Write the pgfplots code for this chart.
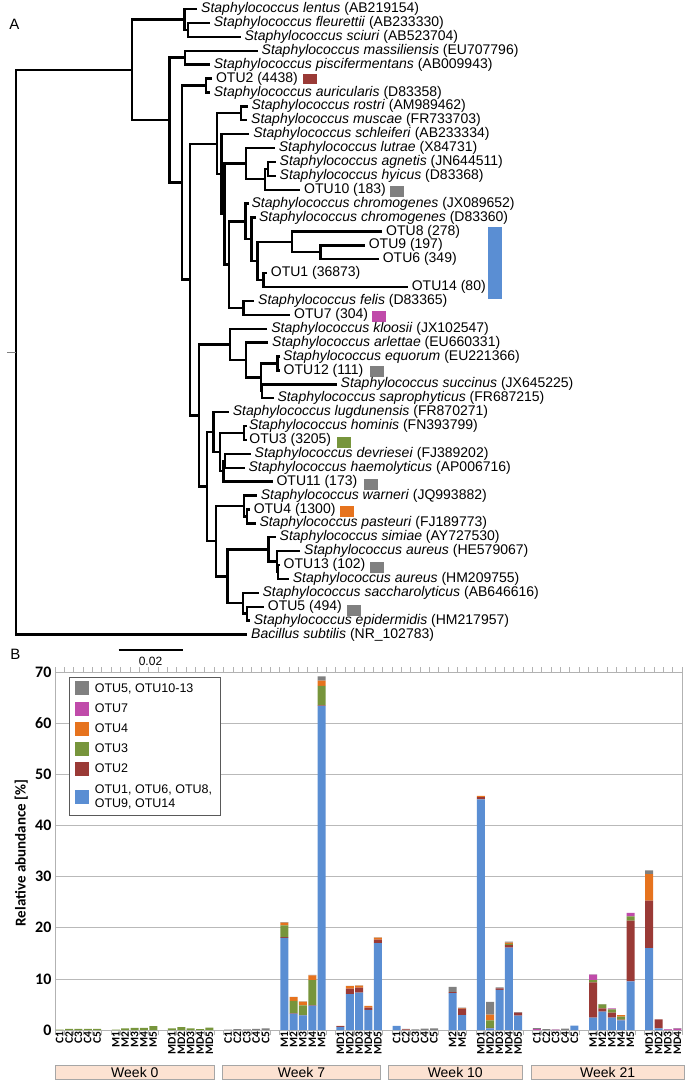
\documentclass[border=0pt]{standalone}
\usepackage{pgfplots}
\pgfplotsset{compat=1.18}
\usepackage{pgfplotstable}
\usepackage{fontspec}
\setmainfont{Liberation Sans}
\newfontfamily\carlito{Carlito}

\definecolor{cBlue}{HTML}{5A8ED3}
\definecolor{cRed}{HTML}{9A3A36}
\definecolor{cGreen}{HTML}{77953C}
\definecolor{cOrange}{HTML}{E6731E}
\definecolor{cMag}{HTML}{C04BAA}
\definecolor{cGrey}{HTML}{808080}
\definecolor{cPeach}{HTML}{FCE2D2}

\pgfplotsset{sqleg/.style={legend image code/.code={\fill[##1] (0pt,-7pt) rectangle (13.5pt,7pt);}}}
\tikzset{br/.style={black, line width=2.4pt, line join=miter},
  tl/.style={anchor=west, inner sep=0pt, font=\fontsize{14}{14}\selectfont},
  wk/.style={font=\fontsize{14}{14}\selectfont, text=black}}

% x = column index; gaps carry no bar
\pgfplotstableread{
x  blue  o2   o3   o4   o7   gr
0  0     0    0.05 0    0    0
1  0     0    0.2  0    0    0
2  0     0    0.2  0    0    0
3  0     0    0.2  0    0    0
4  0     0    0.2  0    0    0
6  0     0    0.05 0    0    0
7  0     0    0.3  0    0    0
8  0     0    0.4  0    0    0
9  0     0    0.4  0    0    0
10 0     0    0.75 0    0    0
12 0     0    0.3  0    0    0
13 0     0    0.55 0    0    0
14 0     0    0.3  0    0    0
15 0     0    0.15 0    0    0
16 0     0    0.45 0    0    0
18 0     0    0    0    0    0.05
19 0     0    0    0    0    0.15
20 0     0    0    0    0    0.1
21 0     0    0    0    0    0.2
22 0     0    0    0    0    0.3
24 18.0  0.15 2.3  0.55 0    0.1
25 3.2   0.1  2.4  0.75 0    0.05
26 2.85  0.05 1.9  0.75 0    0.05
27 4.75  0.1  4.9  0.95 0    0.1
28 63.4  0.1  3.8  1.0  0    0.85
30 0.6   0.15 0    0.05 0    0
31 7.0   1.1  0    0.5  0    0.05
32 7.3   1.0  0    0.4  0    0.05
33 3.95  0.45 0    0.3  0    0
34 17.0  0.65 0    0.4  0    0.05
36 0.8   0    0    0    0    0
37 0     0.1  0    0    0    0.1
38 0     0    0    0    0    0.1
39 0     0    0    0    0    0.25
40 0     0    0    0    0    0.3
42 7.2   0.2  0    0    0    1.05
43 2.9   1.3  0    0.1  0    0.1
45 45.1  0.45 0    0.25 0    0
46 0.3   0.1  1.5  1.1  0    2.5
47 7.85  0.3  0    0    0    0.2
48 16.1  0.5  0.25 0.25 0    0.2
49 2.8   0.6  0    0    0    0.1
51 0     0    0    0    0.15 0.2
52 0     0    0    0    0    0.15
53 0     0    0    0    0.05 0.05
54 0     0    0    0    0    0.25
55 0.85  0    0    0    0    0
57 2.4   6.9  0.45 0    1.1  0.05
58 3.6   0.65 0.75 0    0    0.05
59 2.4   1.0  0.65 0    0.2  0
60 1.9   0.15 0.55 0.3  0    0
61 9.5   11.9 0.8  0    0.7  0
63 16.0  9.3  0    5.2  0    0.7
64 0.3   1.8  0    0    0    0
65 0     0    0    0    0.1  0.05
66 0     0    0    0    0.25 0.1
}\abund

\newcommand{\st}[2]{\textit{Staphylococcus #1} (#2)}

\begin{document}
\begin{tikzpicture}
\path[use as bounding box] (0pt,0pt) rectangle (688pt,-1082pt);

% ---------------- tree ----------------
\begin{axis}[at={(0pt,0pt)}, anchor=north west, scale only axis,
  width=688pt, height=660pt, xmin=0, xmax=688, ymin=0, ymax=660,
  y dir=reverse, axis lines=none, clip=false]
% branches
\addplot[br] coordinates {(209.5,22.9) (187.8,22.9) (187.8,36.8) (240.5,36.8)};
\addplot[br] coordinates {(197,9) (184.3,9) (184.3,29.85) (187.8,29.85)};
\addplot[br] coordinates {(257.5,50.7) (185,50.7) (185,64.6) (209.5,64.6)};
\addplot[br] coordinates {(212,78.5) (206.2,78.5) (206.2,92.4) (209.5,92.4)};
\addplot[br] coordinates {(247.5,106.3) (240.7,106.3) (240.7,120.2) (247,120.2)};
\addplot[br] coordinates {(275.5,161.9) (267.7,161.9) (267.7,175.8) (275.5,175.8)};
\addplot[br] coordinates {(267.7,168.85) (265,168.85) (265,189.7) (300,189.7)};
\addplot[br] coordinates {(274.5,148) (246,148) (246,179.28) (265,179.28)};
\addplot[br] coordinates {(364.5,245.3) (320.3,245.3) (320.3,259.2) (378.5,259.2)};
\addplot[br] coordinates {(382,231.4) (291.7,231.4) (291.7,252.25) (320.3,252.25)};
\addplot[br] coordinates {(266.5,273.1) (263.3,273.1) (263.3,287) (407.5,287)};
\addplot[br] coordinates {(291.7,241.83) (257.3,241.83) (257.3,280.05) (263.3,280.05)};
\addplot[br] coordinates {(256,217.5) (251.5,217.5) (251.5,260.94) (257.3,260.94)};
\addplot[br] coordinates {(248.5,203.6) (245.5,203.6) (245.5,239.22) (251.5,239.22)};
\addplot[br] coordinates {(254,300.9) (243.5,300.9) (243.5,314.8) (290,314.8)};
\addplot[br] coordinates {(245.5,221.41) (229,221.41) (229,307.85) (243.5,307.85)};
\addplot[br] coordinates {(246,163.64) (224.5,163.64) (224.5,264.63) (229,264.63)};
\addplot[br] coordinates {(249,134.1) (221.5,134.1) (221.5,214.14) (224.5,214.14)};
\addplot[br] coordinates {(240.7,113.25) (216.7,113.25) (216.7,174.12) (221.5,174.12)};
\addplot[br] coordinates {(280,356.5) (277.3,356.5) (277.3,370.4) (280,370.4)};
\addplot[br] coordinates {(336.5,384.3) (262,384.3) (262,398.2) (273.5,398.2)};
\addplot[br] coordinates {(277.3,363.45) (260.7,363.45) (260.7,391.25) (262,391.25)};
\addplot[br] coordinates {(268,342.6) (246,342.6) (246,377.35) (260.7,377.35)};
\addplot[br] coordinates {(267,328.7) (230,328.7) (230,359.98) (246,359.98)};
\addplot[br] coordinates {(246.5,426) (244,426) (244,439.9) (246.5,439.9)};
\addplot[br] coordinates {(250.5,453.8) (225,453.8) (225,467.7) (244.5,467.7)};
\addplot[br] coordinates {(225,460.75) (223.3,460.75) (223.3,481.6) (272.5,481.6)};
\addplot[br] coordinates {(244,432.95) (220,432.95) (220,471.18) (223.3,471.18)};
\addplot[br] coordinates {(228.5,412.1) (213.3,412.1) (213.3,452.06) (220,452.06)};
\addplot[br] coordinates {(249.5,509.4) (246.7,509.4) (246.7,523.3) (255.5,523.3)};
\addplot[br] coordinates {(256.5,495.5) (244,495.5) (244,516.35) (246.7,516.35)};
\addplot[br] coordinates {(279.5,565) (278,565) (278,578.9) (288.5,578.9)};
\addplot[br] coordinates {(300,551.1) (276.7,551.1) (276.7,571.95) (278,571.95)};
\addplot[br] coordinates {(275.5,537.2) (268.3,537.2) (268.3,561.53) (276.7,561.53)};
\addplot[br] coordinates {(263.5,606.7) (246.7,606.7) (246.7,620.6) (249.5,620.6)};
\addplot[br] coordinates {(258.5,592.8) (242.7,592.8) (242.7,613.65) (246.7,613.65)};
\addplot[br] coordinates {(268.3,549.36) (227.3,549.36) (227.3,603.23) (242.7,603.23)};
\addplot[br] coordinates {(244,505.93) (216,505.93) (216,576.29) (227.3,576.29)};
\addplot[br] coordinates {(213.3,432.08) (206.7,432.08) (206.7,541.11) (216,541.11)};
\addplot[br] coordinates {(230,344.34) (199,344.34) (199,486.6) (206.7,486.6)};
\addplot[br] coordinates {(216.7,143.69) (190,143.69) (190,415.47) (199,415.47)};
\addplot[br] coordinates {(206.2,85.45) (181.7,85.45) (181.7,279.58) (190,279.58)};
\addplot[br] coordinates {(185,57.65) (169.3,57.65) (169.3,182.52) (181.7,182.52)};
\addplot[br] coordinates {(184.3,19.43) (131.7,19.43) (131.7,120.08) (169.3,120.08)};
\addplot[br] coordinates {(131.7,69.76) (16.2,69.76) (16.2,634.5) (247,634.5)};
\addplot[gray, line width=0.8pt] coordinates {(7,352.1) (16.2,352.1)};
% scale bar
\addplot[br] coordinates {(118.5,650) (183.4,650)};
% colour keys
\addplot[draw=none, fill=cRed] coordinates {(303,73.5) (316.5,73.5) (316.5,84) (303,84)};
\addplot[draw=none, fill=cGrey] coordinates {(390,186) (404,186) (404,196.5) (390,196.5)};
\addplot[draw=none, fill=cBlue] coordinates {(488,226.5) (501.5,226.5) (501.5,299) (488,299)};
\addplot[draw=none, fill=cMag] coordinates {(372,311) (386,311) (386,321.5) (372,321.5)};
\addplot[draw=none, fill=cGrey] coordinates {(370,366) (384,366) (384,376.5) (370,376.5)};
\addplot[draw=none, fill=cGreen] coordinates {(336.5,437) (350.5,437) (350.5,447.5) (336.5,447.5)};
\addplot[draw=none, fill=cGrey] coordinates {(363.5,479) (377.5,479) (377.5,489.5) (363.5,489.5)};
\addplot[draw=none, fill=cOrange] coordinates {(340,506) (354,506) (354,516.5) (340,516.5)};
\addplot[draw=none, fill=cGrey] coordinates {(369.5,562) (383.5,562) (383.5,572.5) (369.5,572.5)};
\addplot[draw=none, fill=cGrey] coordinates {(347,605) (361,605) (361,615.5) (347,615.5)};
% labels
\node[tl] at (axis cs:201,9) {\st{lentus}{AB219154}};
\node[tl] at (axis cs:213.7,22.9) {\st{fleurettii}{AB233330}};
\node[tl] at (axis cs:244.4,36.8) {\st{sciuri}{AB523704}};
\node[tl] at (axis cs:261.5,50.7) {\st{massiliensis}{EU707796}};
\node[tl] at (axis cs:213.7,64.6) {\st{piscifermentans}{AB009943}};
\node[tl] at (axis cs:215.9,78.5) {OTU2 (4438)};
\node[tl] at (axis cs:213.7,92.4) {\st{auricularis}{D83358}};
\node[tl] at (axis cs:251.4,106.3) {\st{rostri}{AM989462}};
\node[tl] at (axis cs:251,120.2) {\st{muscae}{FR733703}};
\node[tl] at (axis cs:253.2,134.1) {\st{schleiferi}{AB233334}};
\node[tl] at (axis cs:278.6,148) {\st{lutrae}{X84731}};
\node[tl] at (axis cs:279.5,161.9) {\st{agnetis}{JN644511}};
\node[tl] at (axis cs:279.5,175.8) {\st{hyicus}{D83368}};
\node[tl] at (axis cs:304,189.7) {OTU10 (183)};
\node[tl] at (axis cs:251.4,203.6) {\st{chromogenes}{JX089652}};
\node[tl] at (axis cs:258.9,217.5) {\st{chromogenes}{D83360}};
\node[tl] at (axis cs:386,231.4) {OTU8 (278)};
\node[tl] at (axis cs:368.6,245.3) {OTU9 (197)};
\node[tl] at (axis cs:382.6,259.2) {OTU6 (349)};
\node[tl] at (axis cs:270.7,273.1) {OTU1 (36873)};
\node[tl] at (axis cs:411.6,287) {OTU14 (80)};
\node[tl] at (axis cs:258,300.9) {\st{felis}{D83365}};
\node[tl] at (axis cs:294,314.8) {OTU7 (304)};
\node[tl] at (axis cs:271.2,328.7) {\st{kloosii}{JX102547}};
\node[tl] at (axis cs:272,342.6) {\st{arlettae}{EU660331}};
\node[tl] at (axis cs:283,356.5) {\st{equorum}{EU221366}};
\node[tl] at (axis cs:283.5,370.4) {OTU12 (111)};
\node[tl] at (axis cs:340.5,384.3) {\st{succinus}{JX645225}};
\node[tl] at (axis cs:277.3,398.2) {\st{saprophyticus}{FR687215}};
\node[tl] at (axis cs:232.6,412.1) {\st{lugdunensis}{FR870271}};
\node[tl] at (axis cs:248.8,426) {\st{hominis}{FN393799}};
\node[tl] at (axis cs:249.2,439.9) {OTU3 (3205)};
\node[tl] at (axis cs:254.5,453.8) {\st{devriesei}{FJ389202}};
\node[tl] at (axis cs:248.4,467.7) {\st{haemolyticus}{AP006716}};
\node[tl] at (axis cs:276.4,481.6) {OTU11 (173)};
\node[tl] at (axis cs:260.6,495.5) {\st{warneri}{JQ993882}};
\node[tl] at (axis cs:253.6,509.4) {OTU4 (1300)};
\node[tl] at (axis cs:259.3,523.3) {\st{pasteuri}{FJ189773}};
\node[tl] at (axis cs:279.5,537.2) {\st{simiae}{AY727530}};
\node[tl] at (axis cs:304,551.1) {\st{aureus}{HE579067}};
\node[tl] at (axis cs:283.5,565) {OTU13 (102)};
\node[tl] at (axis cs:292.7,578.9) {\st{aureus}{HM209755}};
\node[tl] at (axis cs:262.4,592.8) {\st{saccharolyticus}{AB646616}};
\node[tl] at (axis cs:267.7,606.7) {OTU5 (494)};
\node[tl] at (axis cs:253.6,620.6) {\st{epidermidis}{HM217957}};
\node[tl] at (axis cs:251,634.5) {\textit{Bacillus subtilis} (NR\_102783)};
\node[font=\fontsize{12}{12}\selectfont] at (axis cs:150.5,661) {0.02};
\node[font=\fontsize{15}{15}\selectfont] at (axis cs:14.5,24) {A};
\node[font=\fontsize{15}{15}\selectfont] at (axis cs:15.4,654) {B};
\end{axis}

% ---------------- bars ----------------
\begin{axis}[at={(55pt,-672pt)}, anchor=north west, scale only axis,
  width=627pt, height=358pt,
  xmin=-0.5, xmax=66.5, ymin=0, ymax=70,
  ybar stacked, bar width=8pt,
  ytick={0,10,...,70},
  xtick={0,...,66},
  xticklabels={C1,C2,C3,C4,C5,,M1,M2,M3,M4,M5,,MD1,MD2,MD3,MD4,MD5,,C1,C2,C3,C4,C5,,M1,M2,M3,M4,M5,,MD1,MD2,MD3,MD4,MD5,,C1,C2,C3,C4,C5,,M2,M5,,MD1,MD2,MD3,MD4,MD5,,C1,C2,C3,C4,C5,,M1,M2,M3,M4,M5,,MD1,MD2,MD3,MD4},
  minor xtick={-0.5,0.5,...,66.5},
  major tick length=0pt, minor tick length=5pt, tick align=outside,
  tick style={draw=gray!60, line width=0.6pt},
  ymajorgrids, major grid style={draw=gray!55, line width=0.7pt},
  axis line style={draw=gray!60, line width=0.7pt},
  /pgf/number format/assume math mode=true,
  yticklabel style={font=\carlito\bfseries\fontsize{16}{16}\selectfont},
  xticklabel style={rotate=90, anchor=east, font=\carlito\bfseries\fontsize{11.5}{11.5}\selectfont, inner sep=1pt},
  ylabel={Relative abundance [\%]},
  ylabel style={font=\carlito\bfseries\fontsize{15}{15}\selectfont, at={(axis description cs:-0.054,0.494)}, anchor=center},
  legend style={at={(0.0223,0.986)}, anchor=north west, draw=gray!70!black, line width=0.6pt, fill=white,
    font=\fontsize{12.5}{14.5}\selectfont, cells={anchor=west, align=left}, row sep=6pt,
    inner xsep=6pt, inner ysep=4pt,
    /tikz/every odd column/.append style={column sep=4pt}},
  reverse legend,
  clip=false,
]
\addplot[fill=cBlue, draw=none, sqleg] table[x=x, y=blue] {\abund};
\addplot[fill=cRed, draw=none, sqleg] table[x=x, y=o2] {\abund};
\addplot[fill=cGreen, draw=none, sqleg] table[x=x, y=o3] {\abund};
\addplot[fill=cOrange, draw=none, sqleg] table[x=x, y=o4] {\abund};
\addplot[fill=cMag, draw=none, sqleg] table[x=x, y=o7] {\abund};
\addplot[fill=cGrey, draw=none, sqleg] table[x=x, y=gr] {\abund};
\legend{{OTU1, OTU6, OTU8,\\OTU9, OTU14},OTU2,OTU3,OTU4,OTU7,{OTU5, OTU10-13}}
\draw[draw=gray!70, fill=cPeach, line width=0.6pt] (axis cs:-0.49,-6.85) rectangle (axis cs:16.56,-9.65);
\draw[draw=gray!70, fill=cPeach, line width=0.6pt] (axis cs:17.43,-6.85) rectangle (axis cs:34.25,-9.65);
\draw[draw=gray!70, fill=cPeach, line width=0.6pt] (axis cs:35.14,-6.85) rectangle (axis cs:49.4,-9.65);
\draw[draw=gray!70, fill=cPeach, line width=0.6pt] (axis cs:50.36,-6.85) rectangle (axis cs:66.75,-9.65);
\coordinate (w0) at (axis cs:8.03,-8.25);
\coordinate (w7) at (axis cs:25.84,-8.25);
\coordinate (w10) at (axis cs:42.27,-8.25);
\coordinate (w21) at (axis cs:58.55,-8.25);
\end{axis}
\node[wk] at (w0) {Week 0};
\node[wk] at (w7) {Week 7};
\node[wk] at (w10) {Week 10};
\node[wk] at (w21) {Week 21};
\end{tikzpicture}
\end{document}
